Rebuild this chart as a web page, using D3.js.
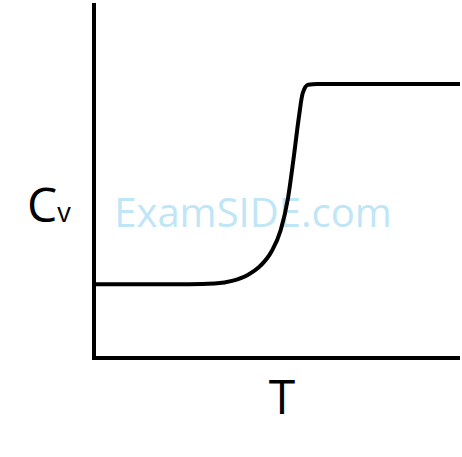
<!DOCTYPE html>
<html>
<head>
<meta charset="utf-8">
<script src="https://cdn.jsdelivr.net/npm/d3@7"></script>
<style>
  body { margin: 0; background: #fff; }
</style>
</head>
<body>
<svg id="chart" width="462" height="457"></svg>
<script>
// curve (T, Cv) in arbitrary units 0..100
var tValues  = [0, 26, 33, 38, 42, 45.5, 48.5, 51, 53, 54.5, 56, 57, 58.5, 61, 100];
var cvValues = [20.8, 20.8, 21.0, 21.8, 23.4, 26.0, 30.0, 36, 45, 56, 68, 74.5, 77, 77.2, 77.2];
var xLabel = "T";
var yLabel = "C";
var ySub = "v";
var watermark = "ExamSIDE.com";

var svg = d3.select("#chart");
var x = d3.scaleLinear().domain([0, 100]).range([94, 460]);
var y = d3.scaleLinear().domain([0, 100]).range([358, 3]);

var points = tValues.map(function(t, i){ return [t, cvValues[i]]; });

svg.append("text")
    .attr("x", 253).attr("y", 227)
    .attr("text-anchor", "middle")
    .attr("font-family", "Open Sans, sans-serif")
    .attr("font-size", 40)
    .attr("fill", "#bfe6f7")
    .text(watermark);

// axes
svg.append("path")
    .attr("d", "M" + x(0) + "," + y(100) + "V" + y(0) + "H" + x(100))
    .attr("fill", "none")
    .attr("stroke", "#000")
    .attr("stroke-width", 4);

var line = d3.line()
    .x(function(d){ return x(d[0]); })
    .y(function(d){ return y(d[1]); })
    .curve(d3.curveMonotoneX);

svg.append("path")
    .datum(points)
    .attr("d", line)
    .attr("fill", "none")
    .attr("stroke", "#000")
    .attr("stroke-width", 4);

var yl = svg.append("text")
    .attr("x", 27).attr("y", 222)
    .attr("font-family", "Open Sans, sans-serif")
    .attr("font-size", 48)
    .attr("fill", "#000");
yl.append("tspan").text(yLabel);
yl.append("tspan").attr("font-size", 27).text(ySub);

svg.append("text")
    .attr("x", 282).attr("y", 414)
    .attr("text-anchor", "middle")
    .attr("font-family", "Open Sans, sans-serif")
    .attr("font-size", 48)
    .attr("fill", "#000")
    .text(xLabel);
</script>
</body>
</html>
